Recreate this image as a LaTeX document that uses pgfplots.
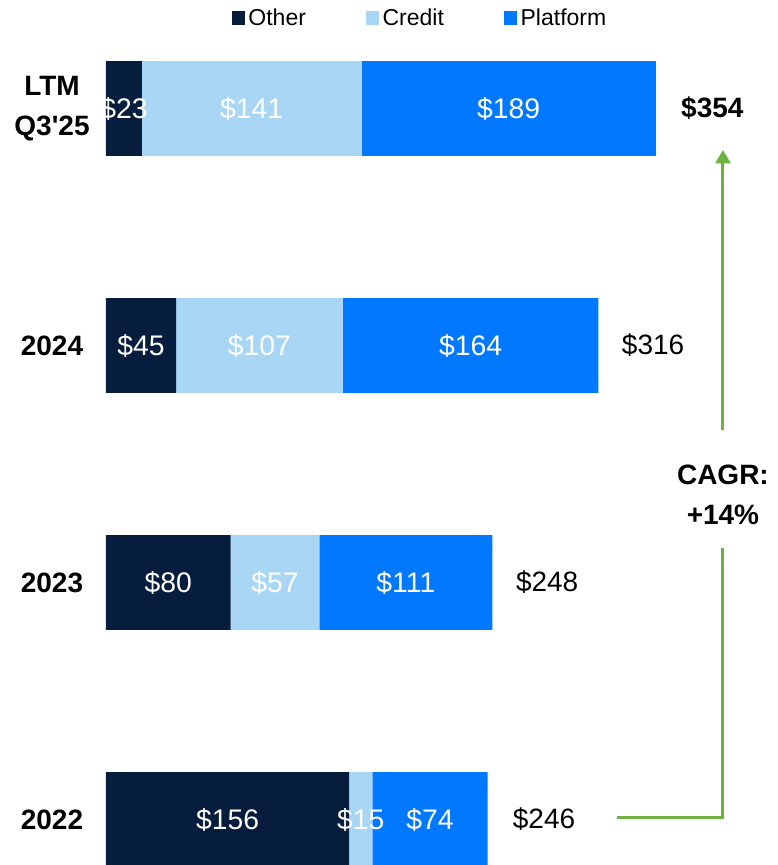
\documentclass[border=0pt]{standalone}
\usepackage{pgfplots}
\pgfplotsset{compat=1.18}
\usepackage{fontspec}
\setmainfont{Liberation Sans}
\usetikzlibrary{arrows.meta}
\definecolor{cOther}{HTML}{061D3D}
\definecolor{cCredit}{HTML}{A9D6F5}
\definecolor{cPlatform}{HTML}{0078FF}
\definecolor{cGreen}{HTML}{6DB33F}

\begin{document}
\begin{tikzpicture}
% 1px = 0.6pt ; picture is 777 x 865 px
\path[use as bounding box] (-63.6pt,0pt) rectangle (402.6pt,519pt);
\begin{axis}[
  scale only axis,
  width=402.6pt, height=519pt,
  xbar stacked,
  bar width=0.4,
  xmin=0, xmax=430.7,
  ymin=-0.192, ymax=3.458,
  axis lines=left,
  axis line style={draw=none},
  xtick=\empty,
  ytick={0,1,2,3},
  yticklabels={2022,2023,2024,{LTM\\Q3\textquotesingle25}},
  major tick length=0pt,
  yticklabel style={anchor=center, xshift=-32.4pt, align=center,
    font=\bfseries\fontsize{16.8}{24}\selectfont},
  /pgf/number format/assume math mode=true,
  point meta=rawx,
  nodes near coords={\$\pgfmathprintnumber[fixed,precision=0]{\pgfplotspointmeta}},
  nodes near coords align=center,
  every node near coord/.append style={anchor=center, text=white, inner sep=0pt,
    font=\fontsize{17}{20}\selectfont},
  legend style={at={(0.469,0.979)}, anchor=center, draw=none, fill=none,
    legend columns=-1, font=\fontsize{13.8}{16}\selectfont,
    /tikz/every even column/.append style={column sep=34pt}},
  legend image code/.code={\fill[#1] (0pt,-4pt) rectangle (8pt,4pt);},
]
\addplot[fill=cOther, draw=none] coordinates {(156,0) (80,1) (45,2) (23,3)};
\addplot[fill=cCredit, draw=none] coordinates {(15,0) (57,1) (107,2) (141,3)};
\addplot[fill=cPlatform, draw=none] coordinates {(74,0) (111,1) (164,2) (189,3)};
\legend{Other,Credit,Platform}
\end{axis}

\begin{axis}[
  scale only axis,
  width=402.6pt, height=519pt,
  xmin=0, xmax=430.7,
  ymin=-0.192, ymax=3.458,
  hide axis,
  clip=false,
  /pgf/number format/assume math mode=true,
  point meta=x,
  nodes near coords={\$\pgfmathprintnumber[fixed,precision=0]{\pgfplotspointmeta}},
  every node near coord/.append style={anchor=west, xshift=14pt, inner sep=0pt, text=black},
]
% totals
\addplot[draw=none, mark=none, every node near coord/.append style={font=\fontsize{16.8}{20}\selectfont}]
  coordinates {(246,0) (248,1) (316,2)};
\addplot[draw=none, mark=none, every node near coord/.append style={font=\bfseries\fontsize{16.8}{20}\selectfont}]
  coordinates {(354,3)};
% CAGR arrow
\draw[cGreen, line width=1.8pt] (axis cs:328,0.01) -- (axis cs:396,0.01) -- (axis cs:396,1.146);
\draw[cGreen, line width=1.8pt, -{Triangle[width=9pt,length=8pt]}] (axis cs:396,1.643) -- (axis cs:396,2.825);
\node[align=center, font=\bfseries\fontsize{16.8}{24}\selectfont] at (axis cs:396,1.369) {CAGR:\\+14\%};
\end{axis}
\end{tikzpicture}
\end{document}
